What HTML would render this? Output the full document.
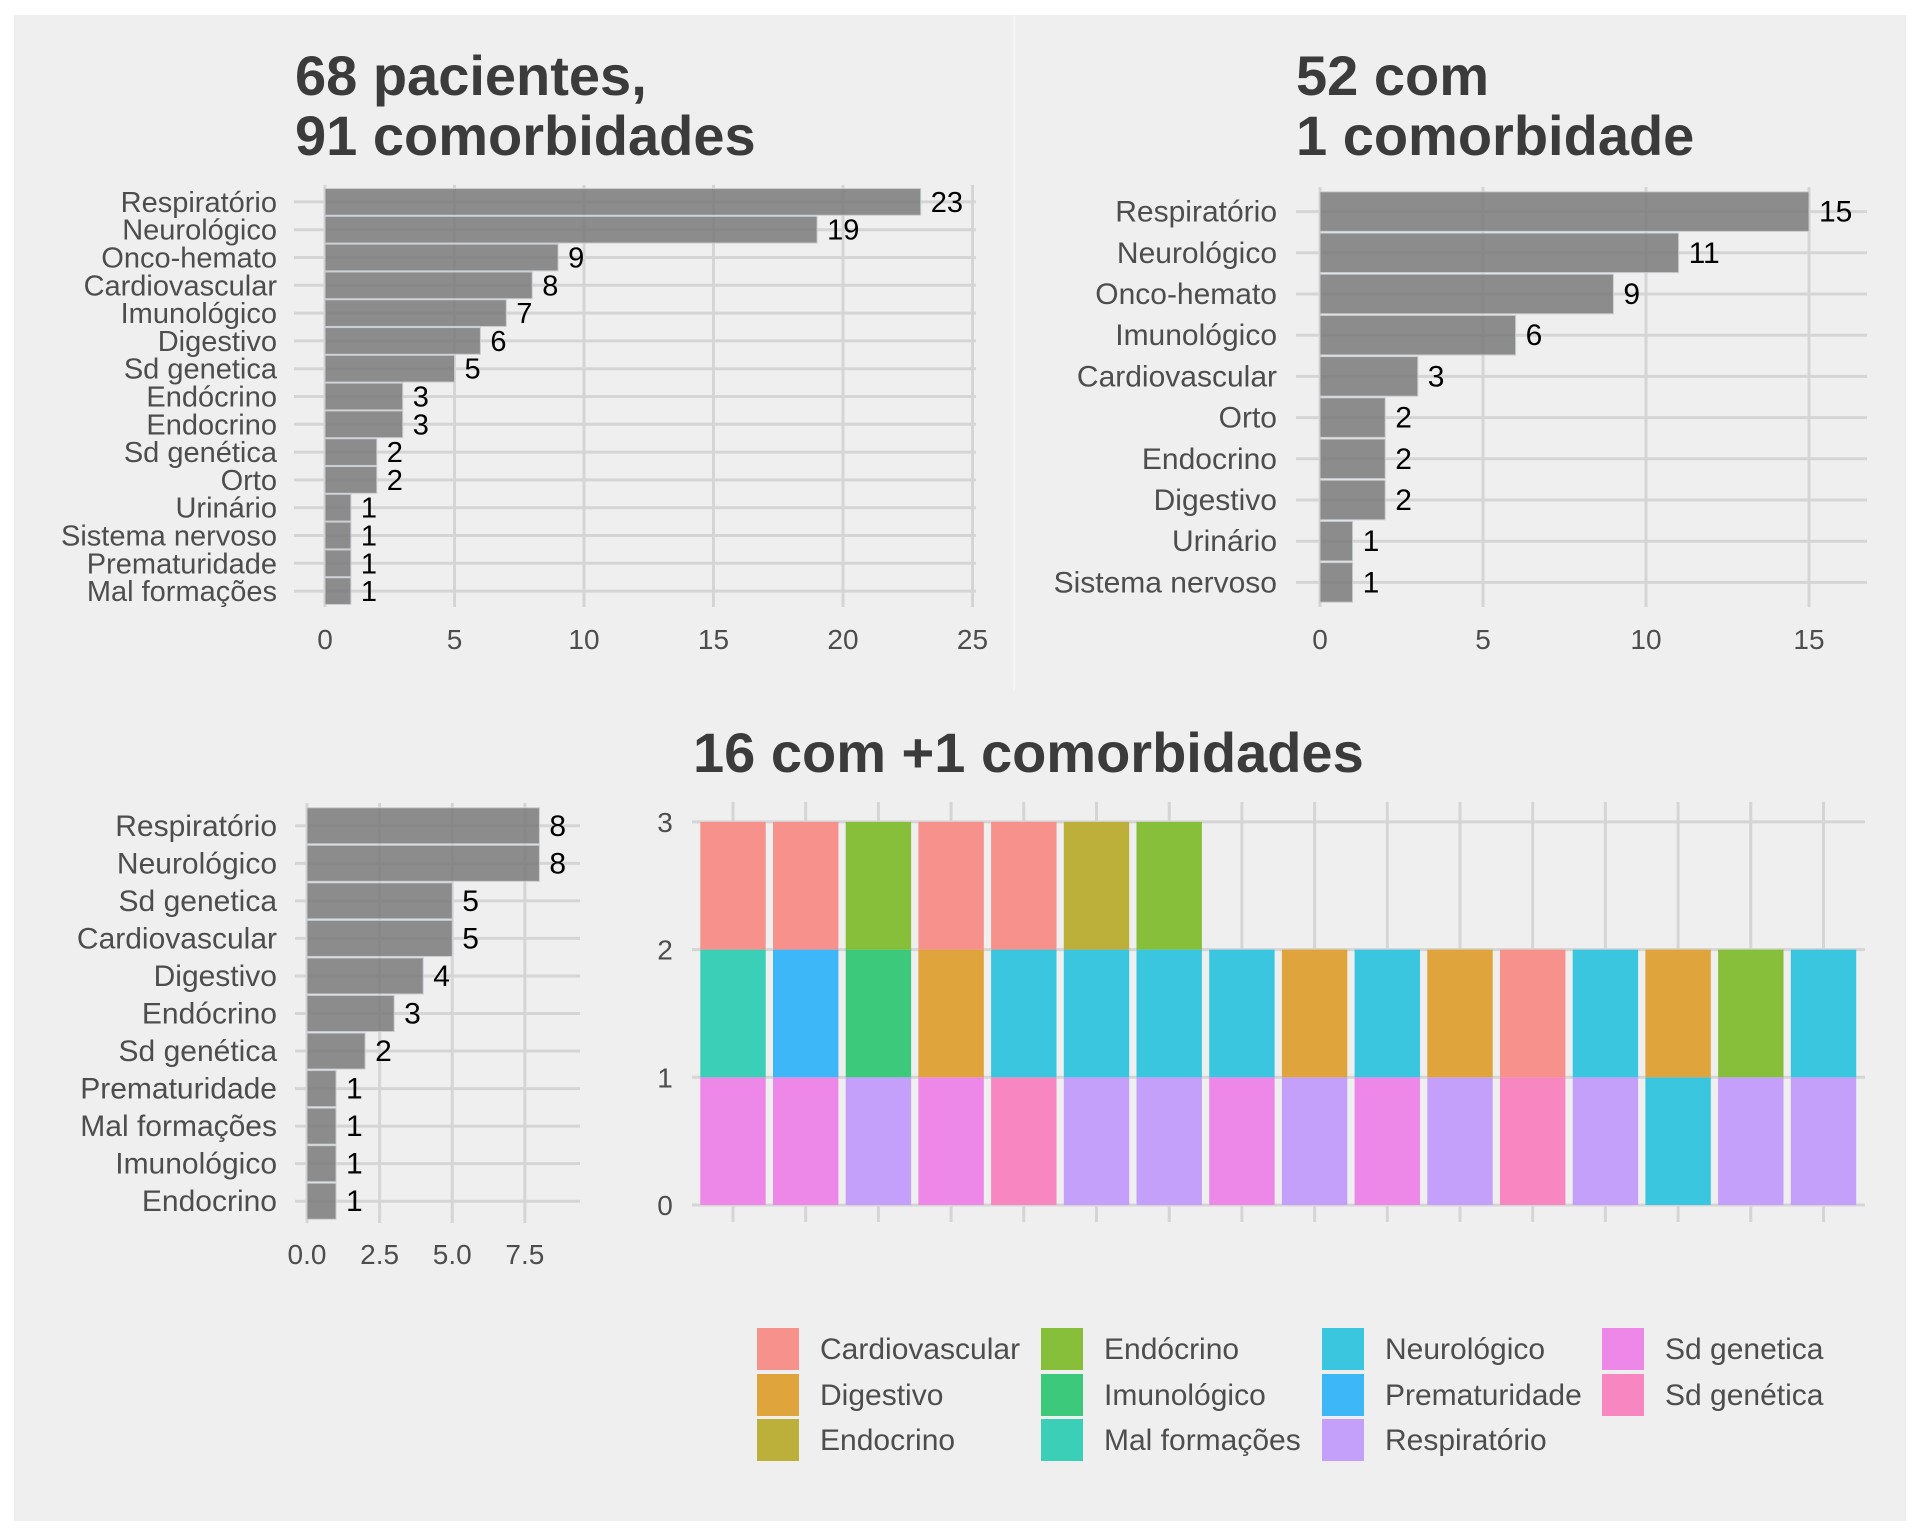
<!DOCTYPE html>
<html><head><meta charset="utf-8">
<style>
html,body{margin:0;padding:0;background:#fff;}
svg{display:block;}
text{font-family:"Liberation Sans",sans-serif;}
</style></head>
<body>
<svg id="chart" width="1920" height="1536" viewBox="0 0 1920 1536" xmlns="http://www.w3.org/2000/svg">
<rect x="14" y="15" width="1892" height="1506" fill="#efefef"/>
<line x1="1014" y1="15" x2="1014" y2="690" stroke="#f4f4f4" stroke-width="2"/>
<g id="titles">
<text x="295" y="95" font-size="56" font-weight="bold" fill="#3b3b3b">68 pacientes,</text>
<text x="295" y="155" font-size="56" font-weight="bold" fill="#3b3b3b">91 comorbidades</text>
<text x="1296" y="95" font-size="56" font-weight="bold" fill="#3b3b3b">52 com</text>
<text x="1296" y="155" font-size="56" font-weight="bold" fill="#3b3b3b">1 comorbidade</text>
<text x="693" y="772" font-size="56" font-weight="bold" fill="#3b3b3b">16 com +1 comorbidades</text>
</g>
</svg>
<script>
// Panel A: all comorbidities
const catsA = ["Respiratório","Neurológico","Onco-hemato","Cardiovascular","Imunológico","Digestivo","Sd genetica","Endócrino","Endocrino","Sd genética","Orto","Urinário","Sistema nervoso","Prematuridade","Mal formações"];
const valsA = [23,19,9,8,7,6,5,3,3,2,2,1,1,1,1];
const ticksA = [0,5,10,15,20,25];
const tickLabelsA = ["0","5","10","15","20","25"];
// Panel B: patients with one comorbidity
const catsB = ["Respiratório","Neurológico","Onco-hemato","Imunológico","Cardiovascular","Orto","Endocrino","Digestivo","Urinário","Sistema nervoso"];
const valsB = [15,11,9,6,3,2,2,2,1,1];
const ticksB = [0,5,10,15];
const tickLabelsB = ["0","5","10","15"];
// Panel C: patients with more than one comorbidity
const catsC = ["Respiratório","Neurológico","Sd genetica","Cardiovascular","Digestivo","Endócrino","Sd genética","Prematuridade","Mal formações","Imunológico","Endocrino"];
const valsC = [8,8,5,5,4,3,2,1,1,1,1];
const ticksC = [0,2.5,5,7.5];
const tickLabelsC = ["0.0","2.5","5.0","7.5"];
// Panel D: stacked comorbidities per patient (bottom, middle, top)
const patients = ["p1","p2","p3","p4","p5","p6","p7","p8","p9","p10","p11","p12","p13","p14","p15","p16"];
const level1 = ["Sd genetica","Sd genetica","Respiratório","Sd genetica","Sd genética","Respiratório","Respiratório","Sd genetica","Respiratório","Sd genetica","Respiratório","Sd genética","Respiratório","Neurológico","Respiratório","Respiratório"];
const level2 = ["Mal formações","Prematuridade","Imunológico","Digestivo","Neurológico","Neurológico","Neurológico","Neurológico","Digestivo","Neurológico","Digestivo","Cardiovascular","Neurológico","Digestivo","Endócrino","Neurológico"];
const level3 = ["Cardiovascular","Cardiovascular","Endócrino","Cardiovascular","Cardiovascular","Endocrino","Endócrino","","","","","","","","",""];
const yTicksD = [0,1,2,3];
const legendCats = ["Cardiovascular","Digestivo","Endocrino","Endócrino","Imunológico","Mal formações","Neurológico","Prematuridade","Respiratório","Sd genetica","Sd genética"];
const legendColors = ["#f6928b","#dfa43b","#bdb03a","#88bf3a","#3cc97b","#3ccfb8","#3bc6e0","#3eb7f9","#c4a0fb","#ee88e8","#f887c1"];

const NS = "http://www.w3.org/2000/svg";
const svg = document.getElementById("chart");
function mk(tag, attrs, parent){
  const e = document.createElementNS(NS, tag);
  for (const k in attrs) e.setAttribute(k, attrs[k]);
  (parent||svg).appendChild(e);
  return e;
}
const GRID = "#d5d5d5";

function barPanel(name, cats, vals, ticks, tickLabels, g){
  const grp = mk("g", {});
  
  
  const band = (g.y1 - g.y0) / cats.length;
  const sx = v => g.x0 + v * g.ppu;
  const sy = i => g.y0 + band * (i + 0.5);
  ticks.forEach((t, i) => {
    const l = mk("line", {x1:sx(t), x2:sx(t), y1:g.gy0, y2:g.gy1, stroke:GRID, "stroke-width":3}, grp);
    
    
    const tx = mk("text", {x:sx(t), y:g.tickY, "font-size":28, fill:"#4d4d4d", "text-anchor":"middle"}, grp);
    tx.textContent = tickLabels[i];
    
    
  });
  cats.forEach((c, i) => {
    const l = mk("line", {x1:g.gx0, x2:g.gx1, y1:sy(i), y2:sy(i), stroke:GRID, "stroke-width":3}, grp);
    
    
  });
  cats.forEach((c, i) => {
    const h = band * 0.96;
    const r = mk("rect", {x:sx(0), y:sy(i)-h/2, width:sx(vals[i])-sx(0), height:h, fill:"#7a7a7a", "fill-opacity":0.85, stroke:"#c8ccd0", "stroke-width":1}, grp);
    
    
    const lab = mk("text", {x:g.labelX, y:sy(i)+10, "font-size":g.fs, fill:"#4d4d4d", "text-anchor":"end"}, grp);
    lab.textContent = c;
    
    
    const v = mk("text", {x:sx(vals[i])+10, y:sy(i)+10, "font-size":g.fs, fill:"#000"}, grp);
    v.textContent = String(vals[i]);
    
    
  });
}

barPanel("panel-all-comorbidities", catsA, valsA, ticksA, tickLabelsA,
  {x0:325, ppu:25.9, y0:188, y1:605, gx0:294, gx1:976, gy0:185, gy1:607, tickY:649, labelX:277, fs:29});
barPanel("panel-one-comorbidity", catsB, valsB, ticksB, tickLabelsB,
  {x0:1320, ppu:32.6, y0:191, y1:603, gx0:1296, gx1:1867, gy0:187, gy1:607, tickY:649, labelX:1277, fs:30});
barPanel("panel-multi-counts", catsC, valsC, ticksC, tickLabelsC,
  {x0:307, ppu:29.05, y0:807, y1:1220, gx0:295, gx1:580, gy0:803, gy1:1223, tickY:1264, labelX:277, fs:30});

// Panel D stacked
(function(){
  const grp = mk("g", {});
  
  
  const x0 = 733, step = 72.7, y0 = 1205, ppu = 127.7;
  const sx = i => x0 + step * i;
  const sy = v => y0 - v * ppu;
  const colorOf = c => legendColors[legendCats.indexOf(c)];
  yTicksD.forEach(t => {
    const l = mk("line", {x1:692, x2:1865, y1:sy(t), y2:sy(t), stroke:GRID, "stroke-width":3}, grp);
    
    
    const tx = mk("text", {x:665, y:sy(t)+10, "font-size":28, fill:"#4d4d4d", "text-anchor":"middle"}, grp);
    tx.textContent = String(t);
    
    
  });
  patients.forEach((p, i) => {
    const l = mk("line", {x1:sx(i), x2:sx(i), y1:sy(3)-20, y2:sy(0)+17, stroke:GRID, "stroke-width":3}, grp);
    
    
  });
  const w = step * 0.9;
  [level1, level2, level3].forEach((lev, k) => {
    lev.forEach((c, i) => {
      if (!c) return;
      const r = mk("rect", {x:sx(i)-w/2, y:sy(k+1), width:w, height:ppu, fill:colorOf(c)}, grp);
      
      
    });
  });
  // legend
  const lg = mk("g", {});
  
  
  const colKeyX = [757, 1041, 1322, 1602];
  const rowY = [1349, 1395, 1440];
  legendCats.forEach((c, i) => {
    const col = Math.floor(i / 3), row = i % 3;
    const r = mk("rect", {x:colKeyX[col], y:rowY[row]-21, width:42, height:42, fill:legendColors[i]}, lg);
    
    
    const t = mk("text", {x:colKeyX[col]+63, y:rowY[row]+10, "font-size":30, fill:"#4d4d4d"}, lg);
    t.textContent = c;
    
    
  });
})();
</script>
</body></html>
